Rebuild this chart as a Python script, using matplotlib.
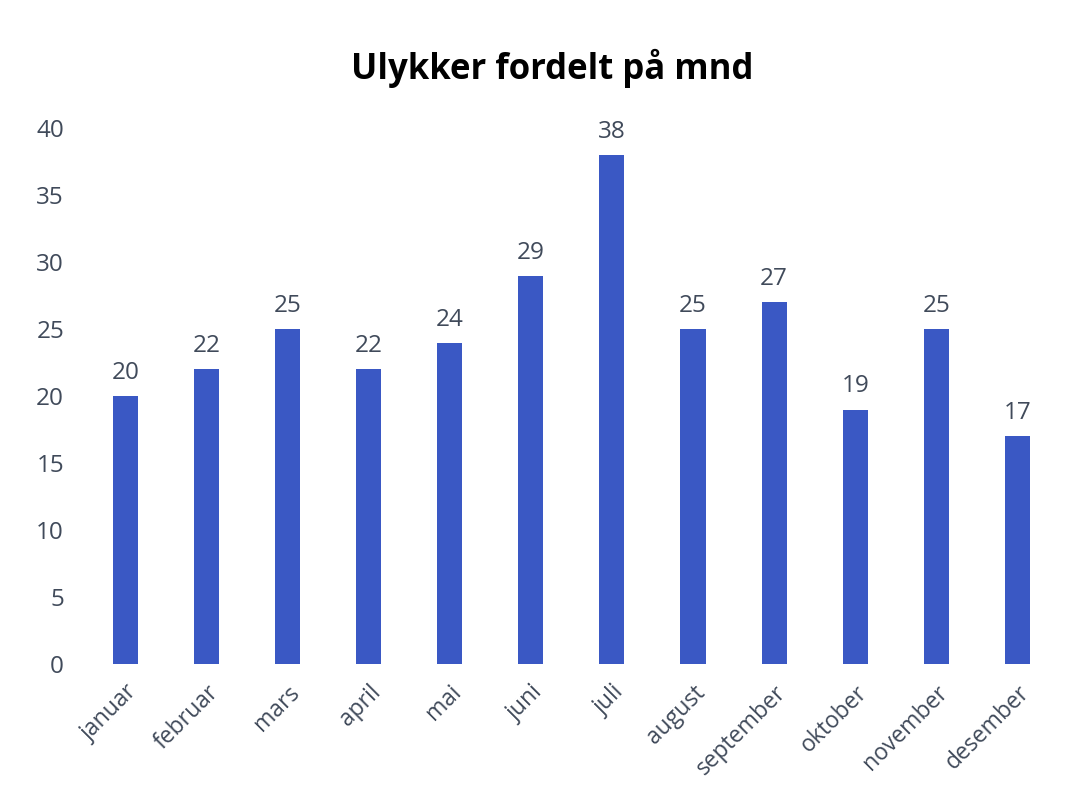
import matplotlib.pyplot as plt

months = ["januar", "februar", "mars", "april", "mai", "juni",
          "juli", "august", "september", "oktober", "november", "desember"]
counts = [20, 22, 25, 22, 24, 29, 38, 25, 27, 19, 25, 17]
yticks = [0, 5, 10, 15, 20, 25, 30, 35, 40]

plt.rcParams['font.family'] = ['Open Sans', 'DejaVu Sans']
text_col = "#404a5a"

fig = plt.figure(figsize=(10.74, 8.02), dpi=100)
ax = fig.add_axes([0.079, 0.172, 0.906, 0.668])

x = range(len(months))
bars = ax.bar(x, counts, width=0.31, color="#3a58c4")
ax.bar_label(bars, labels=[str(c) for c in counts], padding=8,
             fontsize=17.5, color=text_col)

ax.set_xlim(-0.5, len(months) - 0.5)
ax.set_ylim(0, 40)
ax.set_yticks(yticks)
ax.set_yticklabels([str(t) for t in yticks], fontsize=17.5, color=text_col)
ax.set_xticks(list(x))
ax.set_xticklabels(months, rotation=45, ha="right", rotation_mode="anchor",
                   fontsize=16.5, color=text_col)
ax.tick_params(length=0, axis="y", pad=15)
ax.tick_params(length=0, axis="x", pad=12)
for s in ax.spines.values():
    s.set_visible(False)

fig.text(0.514, 0.915, "Ulykker fordelt på mnd", ha="center", va="center",
         fontsize=25, fontweight="bold", color="black")

fig.savefig("out.png", dpi=100)
